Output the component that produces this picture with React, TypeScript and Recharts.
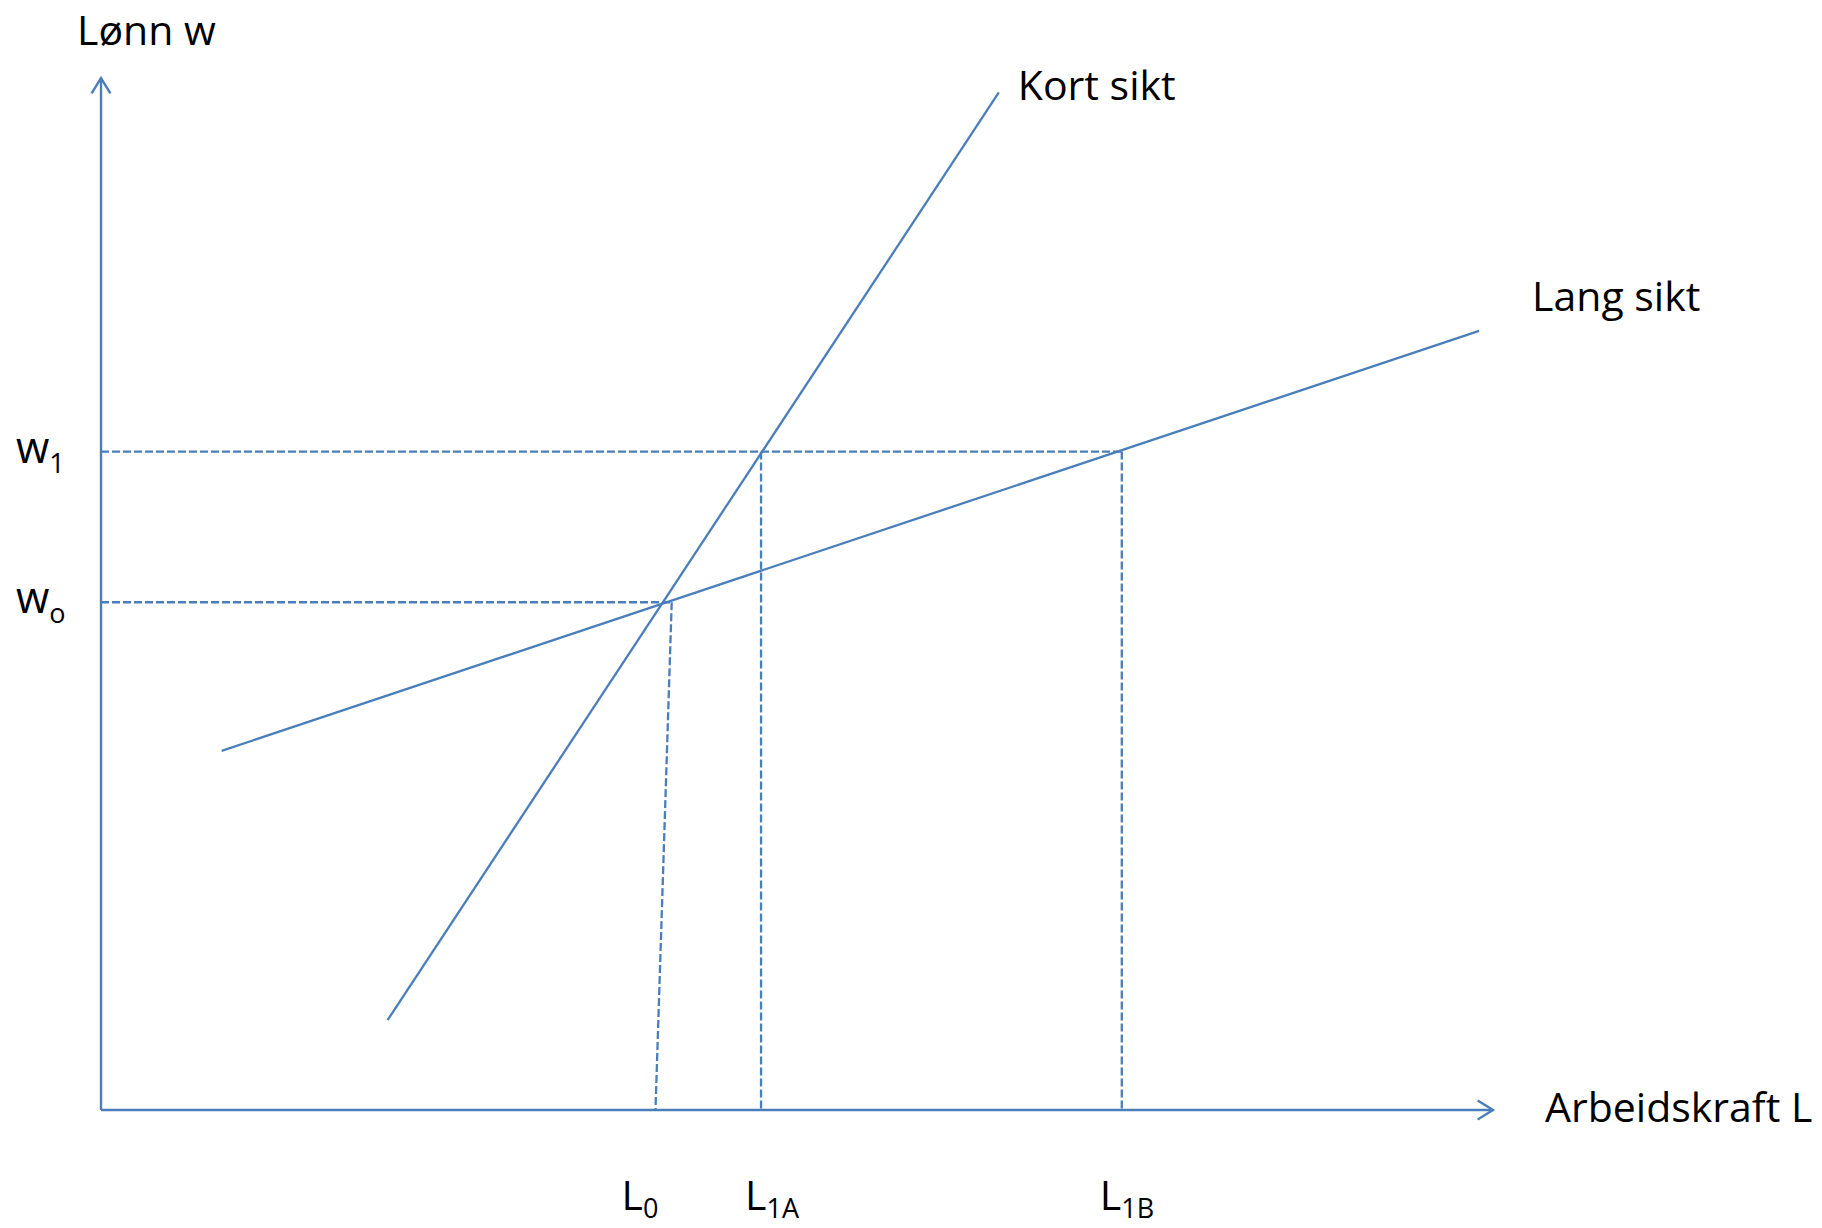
import React from 'react';
import { ComposedChart, Line, XAxis, YAxis, ReferenceLine, ReferenceDot } from 'recharts';

// ---- data (economic units) ----
const kortSikt = [
  { x: 24.7, y: 8.7 },
  { x: 77.4, y: 98.6 },
];
const langSikt = [
  { x: 10.4, y: 34.8 },
  { x: 118.8, y: 75.5 },
];
const wageValues = [49.2, 63.8]; // w0, w1
const wageSubs = ['o', '1'];
const laborValues = [47.8, 56.9, 88.0]; // L0 (at axis), L1A, L1B
const laborSubs = ['0', '1A', '1B'];
const l0Top = 49.2; // where the L0 guide meets w0
const xDomain = [0, 120];
const yDomain = [0, 100];

const BLUE = '#4a7ebb';
const FONT = '"Open Sans", sans-serif';
const FS = 41;
const SUB = 27;

const W = 1822;
const H = 1228;

const ArrowLine = (props: any) => {
  const { x1, y1, x2, y2 } = props;
  const ang = Math.atan2(y2 - y1, x2 - x1);
  const len = 18;
  const half = 0.55;
  const ax = x2 - len * Math.cos(ang - half);
  const ay = y2 - len * Math.sin(ang - half);
  const bx = x2 - len * Math.cos(ang + half);
  const by = y2 - len * Math.sin(ang + half);
  return (
    <g>
      <line x1={x1} y1={y1} x2={x2} y2={y2} stroke={BLUE} strokeWidth={2.4} />
      <polyline points={`${ax},${ay} ${x2},${y2} ${bx},${by}`} fill="none" stroke={BLUE} strokeWidth={2.4} />
    </g>
  );
};

const makeText = (text: string, dx: number, dy: number) => (p: any) => (
  <text x={p.cx + dx} y={p.cy + dy} fontFamily={FONT} fontSize={FS} fill="#000">
    {text}
  </text>
);

const WageTick = (p: any) => {
  const i = wageValues.indexOf(p.payload.value);
  return (
    <text x={16} y={p.y + 11} fontFamily={FONT} fontSize={FS + 2} fill="#000" textAnchor="start">
      w
      <tspan fontSize={SUB} dy={10}>{wageSubs[i]}</tspan>
    </text>
  );
};

const laborDx = [-34, -16, -22];
const LaborTick = (p: any) => {
  const i = laborValues.indexOf(p.payload.value);
  return (
    <text x={p.x + laborDx[i]} y={1210} fontFamily={FONT} fontSize={FS} fill="#000" textAnchor="start">
      L
      <tspan fontSize={SUB} dy={8}>{laborSubs[i]}</tspan>
    </text>
  );
};

export default function App() {
  const dash = '8 3';
  const sw = 2.3;
  return (
    <div style={{ position: 'absolute', left: 0, top: 0, width: W, height: H, background: '#fff' }}>
      <ComposedChart
        width={W}
        height={H}
        margin={{ top: 78, right: W - 1493, bottom: H - 1110 - 1, left: 100 }}
      >
        <XAxis
          type="number"
          dataKey="x"
          domain={xDomain}
          ticks={laborValues}
          axisLine={false}
          tickLine={false}
          height={1}
          tick={<LaborTick />}
          interval={0}
          allowDataOverflow
        />
        <YAxis
          type="number"
          dataKey="y"
          domain={yDomain}
          ticks={wageValues}
          axisLine={false}
          tickLine={false}
          width={1}
          tick={<WageTick />}
          interval={0}
          allowDataOverflow
        />
        {/* axes with arrow heads */}
        <ReferenceLine
          segment={[{ x: xDomain[0], y: yDomain[0] }, { x: xDomain[0], y: yDomain[1] }]}
          ifOverflow="visible"
          shape={ArrowLine}
        />
        <ReferenceLine
          segment={[{ x: xDomain[0], y: yDomain[0] }, { x: xDomain[1], y: yDomain[0] }]}
          ifOverflow="visible"
          shape={ArrowLine}
        />
        {/* dashed guides */}
        <ReferenceLine
          segment={[{ x: 0, y: wageValues[1] }, { x: laborValues[2], y: wageValues[1] }]}
          stroke={BLUE}
          strokeWidth={sw}
          strokeDasharray={dash}
          ifOverflow="visible"
        />
        <ReferenceLine
          segment={[{ x: 0, y: wageValues[0] }, { x: l0Top, y: wageValues[0] }]}
          stroke={BLUE}
          strokeWidth={sw}
          strokeDasharray={dash}
          ifOverflow="visible"
        />
        <ReferenceLine
          segment={[{ x: l0Top, y: wageValues[0] }, { x: laborValues[0], y: 0 }]}
          stroke={BLUE}
          strokeWidth={sw}
          strokeDasharray={dash}
          ifOverflow="visible"
        />
        <ReferenceLine
          segment={[{ x: laborValues[1], y: wageValues[1] }, { x: laborValues[1], y: 0 }]}
          stroke={BLUE}
          strokeWidth={sw}
          strokeDasharray={dash}
          ifOverflow="visible"
        />
        <ReferenceLine
          segment={[{ x: laborValues[2], y: wageValues[1] }, { x: laborValues[2], y: 0 }]}
          stroke={BLUE}
          strokeWidth={sw}
          strokeDasharray={dash}
          ifOverflow="visible"
        />
        {/* curves */}
        <Line
          data={kortSikt}
          dataKey="y"
          stroke={BLUE}
          strokeWidth={sw}
          dot={false}
          activeDot={false}
          isAnimationActive={false}
          type="linear"
        />
        <Line
          data={langSikt}
          dataKey="y"
          stroke={BLUE}
          strokeWidth={sw}
          dot={false}
          activeDot={false}
          isAnimationActive={false}
          type="linear"
        />
        {/* text labels */}
        <ReferenceDot x={kortSikt[1].x} y={kortSikt[1].y} ifOverflow="visible" shape={makeText('Kort sikt', 19, 8)} />
        <ReferenceDot x={langSikt[1].x} y={langSikt[1].y} ifOverflow="visible" shape={makeText('Lang sikt', 53, -20)} />
        <ReferenceDot x={xDomain[0]} y={yDomain[1]} ifOverflow="visible" shape={makeText('Lønn w', -24, -33)} />
        <ReferenceDot x={xDomain[1]} y={yDomain[0]} ifOverflow="visible" shape={makeText('Arbeidskraft L', 52, 12)} />
      </ComposedChart>
    </div>
  );
}
